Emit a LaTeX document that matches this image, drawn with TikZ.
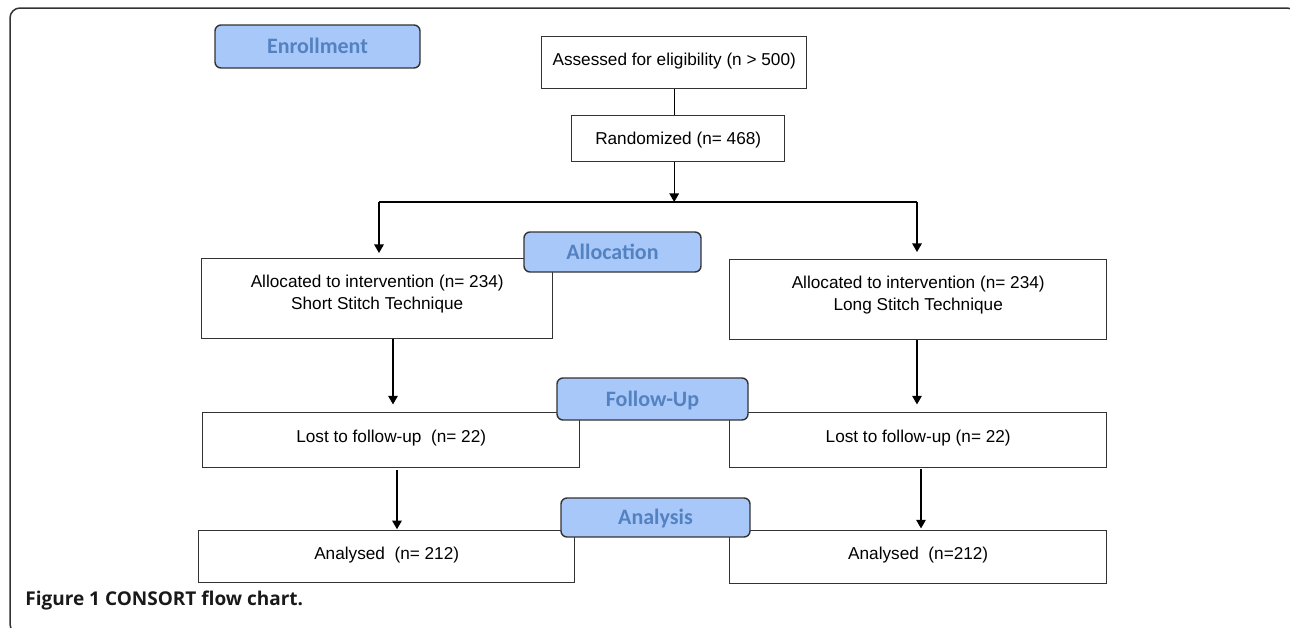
\documentclass[tikz,border=0pt]{standalone}
\usepackage{fontspec}
\setmainfont{Liberation Sans}
\newfontfamily\phasefont{Carlito}
\newfontfamily\capfont{Open Sans}
\usetikzlibrary{arrows.meta}

\definecolor{phasefill}{RGB}{168,200,250}
\definecolor{phasetext}{RGB}{84,130,192}
\definecolor{edge}{RGB}{51,51,51}

\tikzset{
  stagebox/.style={draw=edge, line width=0.7pt, inner sep=0pt, anchor=north west,
    font=\fontsize{8.6}{11}\selectfont, align=center},
  phase/.style={draw=edge, line width=0.7pt, fill=phasefill, rounded corners=3pt,
    inner sep=0pt, anchor=center, text=phasetext,
    font=\phasefont\bfseries\fontsize{11}{13}\selectfont},
  link/.style={line width=0.6pt, draw=black},
  arr/.style={link, -{Triangle[width=4.8pt,length=4.3pt]}}
}

\newcommand{\twolines}[2]{\begin{tabular}[t]{@{}c@{}}#1\\#2\end{tabular}}

\begin{document}
\begin{tikzpicture}[x=0.5pt,y=-0.5pt]
\useasboundingbox (0,0) rectangle (1290,627);

% outer frame, partly running off the page
\begin{scope}
  \clip (0,0) rectangle (1290,627);
  \draw[draw=edge, line width=0.75pt, rounded corners=5pt] (10,8) rectangle (1297,634);
\end{scope}

% flow boxes
\node[stagebox, minimum width=132.5pt, minimum height=26pt, text height=14.5pt, text depth=11.5pt]
  (assess) at (541,36) {Assessed for eligibility (n > 500)};
\node[stagebox, minimum width=106.5pt, minimum height=23pt, text height=14.5pt, text depth=8.5pt]
  (rand) at (571,115) {Randomized (n= 468)};

\node[stagebox, minimum width=175.5pt, minimum height=40pt, text height=14.5pt, text depth=25.5pt]
  (la) at (201,258) {\twolines{Allocated to intervention (n= 234)}{Short Stitch Technique}};
\node[stagebox, minimum width=188.5pt, minimum height=40pt, text height=14.5pt, text depth=25.5pt]
  (ra) at (729,259) {\twolines{Allocated to intervention (n= 234)}{Long Stitch Technique}};

\node[stagebox, minimum width=188.5pt, minimum height=27.5pt, text height=15pt, text depth=12.5pt]
  (ll) at (202,412) {Lost to follow-up\ \ (n= 22)};
\node[stagebox, minimum width=188.5pt, minimum height=27.5pt, text height=15pt, text depth=12.5pt]
  (rl) at (729,412) {Lost to follow-up (n= 22)};

\node[stagebox, minimum width=188pt, minimum height=26pt, text height=14.5pt, text depth=11.5pt]
  (lan) at (198,530) {Analysed\ \ (n= 212)};
\node[stagebox, minimum width=188.5pt, minimum height=26.5pt, text height=14.5pt, text depth=12pt]
  (ran) at (729,530) {Analysed\ \ (n=212)};

% branching points
\coordinate (splitL) at (379,202);
\coordinate (splitR) at (917,202);
\coordinate (split) at (assess.south |- splitL);
\coordinate (colL1) at (393,0);
\coordinate (colL2) at (397,0);
\coordinate (colR1) at (917,0);
\coordinate (colR2) at (921,0);

% connectors
\draw[link] (assess.south) -- (assess.south |- rand.north);
\draw[arr] (split |- rand.south) -- (split);
\draw[link] (splitL) -- (splitR);
\draw[arr, shorten >=2.5pt] (splitL) -- (splitL |- la.north);
\draw[arr, shorten >=3.5pt] (splitR) -- (splitR |- ra.north);
\draw[arr, shorten >=3.8pt] (la.south -| colL1) -- (ll.north -| colL1);
\draw[arr, shorten >=3.8pt] (ra.south -| colR1) -- (rl.north -| colR1);
\draw[arr, shorten <=1pt, shorten >=0.4pt] (ll.south -| colL2) -- (lan.north -| colL2);
\draw[arr, shorten <=0.5pt, shorten >=0.8pt] (rl.south -| colR2) -- (ran.north -| colR2);

% phase labels, drawn over the boxes
\node[phase, minimum width=102.5pt, minimum height=21.5pt, text height=14.3pt, text depth=7.2pt]
  (enroll) at (317.5,46.5) {Enrollment};
\node[phase, minimum width=88.5pt, minimum height=20pt, text height=13.55pt, text depth=6.45pt]
  (alloc) at (612.5,252) {Allocation};
\node[phase, minimum width=95.5pt, minimum height=21pt, text height=14.05pt, text depth=6.95pt]
  (follow) at (652.5,399) {Follow-Up};
\node[phase, minimum width=94.5pt, minimum height=19.5pt, text height=13.3pt, text depth=6.2pt]
  (analysis) at (655.5,517.5) {Analysis};

% caption
\node[anchor=base west, inner sep=0pt, text=black!90, font=\capfont\bfseries\fontsize{9.5}{11}\selectfont]
  (caption) at (25,605) {Figure 1 CONSORT flow chart.};
\end{tikzpicture}
\end{document}
